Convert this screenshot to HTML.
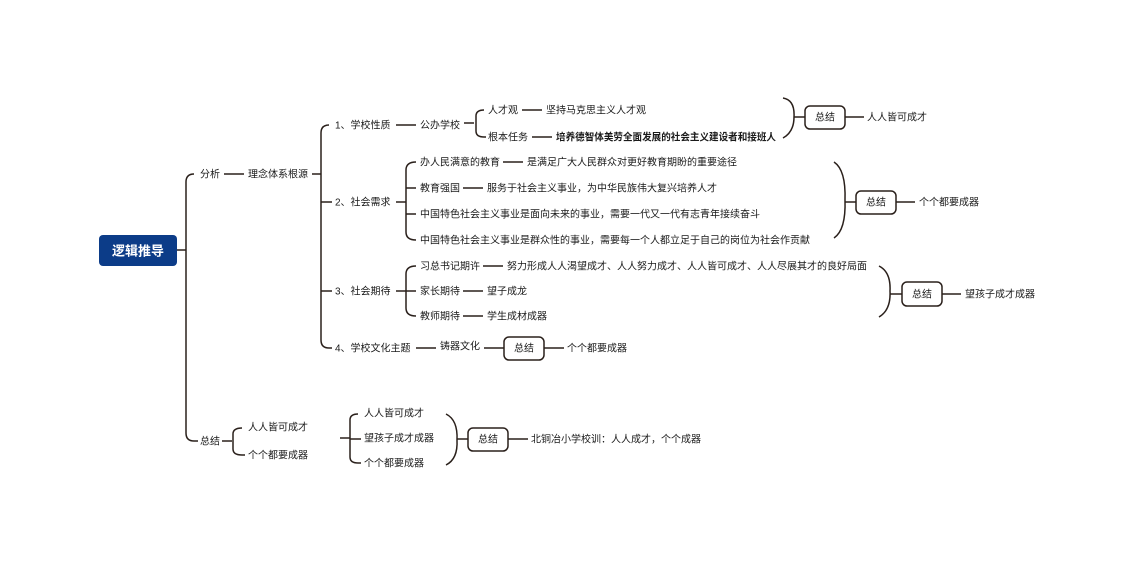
<!DOCTYPE html>
<html><head><meta charset="utf-8"><style>
html,body{margin:0;padding:0;background:#fff}
svg text{font-family:"Liberation Sans","Noto Sans CJK SC",sans-serif;font-size:10px;fill:#1a1a1a;dominant-baseline:central}
</style></head><body>
<svg width="1135" height="568" viewBox="0 0 1135 568" xmlns="http://www.w3.org/2000/svg">
<g fill="none" stroke="#2a201b" stroke-width="1.5">
<path d="M177 250H186"/>
<path d="M194 174Q186 174 186 182V433Q186 441 194 441H198"/>
<path d="M224 174H244"/>
<path d="M312 174H321"/>
<path d="M329 125Q321 125 321 133V340Q321 348 329 348H332"/>
<path d="M321 202H332M321 291H332"/>
<path d="M396 125H416"/>
<path d="M464 123H474"/>
<path d="M484 110Q476 110 476 116V131Q476 137 484 137H486"/>
<path d="M522 110H542M532 137H552"/>
<path d="M783 98Q795 100 794 117Q794 132 783 138"/>
<path d="M794 117H805"/>
<rect x="805" y="106" width="40" height="23" rx="5"/>
<path d="M845 117H864"/>
<path d="M396 202H406"/>
<path d="M416 162Q406 162 406 170V232Q406 240 416 240"/>
<path d="M406 188H416M406 214H416"/>
<path d="M503 162H523M463 188H483"/>
<path d="M834 162Q846 170 845 200Q846 230 834 238"/>
<path d="M845 202H856"/>
<rect x="856" y="191" width="40" height="23" rx="5"/>
<path d="M896 202H915"/>
<path d="M396 291H406"/>
<path d="M416 266Q406 266 406 274V308Q406 316 416 316"/>
<path d="M406 291H416"/>
<path d="M483 266H503M463 291H483M463 316H483"/>
<path d="M879 266Q891 272 890 291Q891 310 879 317"/>
<path d="M890 294H902"/>
<rect x="902" y="282" width="40" height="24" rx="5"/>
<path d="M942 294H961"/>
<path d="M416 348H436M484 348H504"/>
<rect x="504" y="337" width="40" height="23" rx="5"/>
<path d="M544 348H564"/>
<path d="M222 441H232"/>
<path d="M242 428Q233 428 233 434V449Q233 455 242 455H245"/>
<path d="M340 438H350"/>
<path d="M358 414Q350 414 350 420V457Q350 463 358 463H361"/>
<path d="M350 439H361"/>
<path d="M446 414Q458 420 457 440Q458 459 446 465"/>
<path d="M457 439H468"/>
<rect x="468" y="428" width="40" height="23" rx="5"/>
<path d="M508 439H528"/>
</g>
<rect x="99" y="235" width="78" height="31" rx="4" fill="#0c3c88"/>
<g transform="translate(0,1)">
<text x="138" y="250" text-anchor="middle" style="fill:#fff;font-size:13px;font-weight:bold">逻辑推导</text>
<text x="200" y="174">分析</text>
<text x="248" y="174">理念体系根源</text>
<text x="335" y="125">1、学校性质</text>
<text x="420" y="125">公办学校</text>
<text x="488" y="110">人才观</text>
<text x="546" y="110">坚持马克思主义人才观</text>
<text x="488" y="137">根本任务</text>
<text x="556" y="137" style="font-weight:bold" textLength="220" lengthAdjust="spacingAndGlyphs">培养德智体美劳全面发展的社会主义建设者和接班人</text>
<text x="825" y="117" text-anchor="middle">总结</text>
<text x="867" y="117">人人皆可成才</text>
<text x="335" y="202">2、社会需求</text>
<text x="420" y="162">办人民满意的教育</text>
<text x="527" y="162">是满足广大人民群众对更好教育期盼的重要途径</text>
<text x="420" y="188">教育强国</text>
<text x="487" y="188">服务于社会主义事业，为中华民族伟大复兴培养人才</text>
<text x="420" y="214">中国特色社会主义事业是面向未来的事业，需要一代又一代有志青年接续奋斗</text>
<text x="420" y="240">中国特色社会主义事业是群众性的事业，需要每一个人都立足于自己的岗位为社会作贡献</text>
<text x="876" y="202" text-anchor="middle">总结</text>
<text x="919" y="202">个个都要成器</text>
<text x="335" y="291">3、社会期待</text>
<text x="420" y="266">习总书记期许</text>
<text x="507" y="266">努力形成人人渴望成才、人人努力成才、人人皆可成才、人人尽展其才的良好局面</text>
<text x="420" y="291">家长期待</text>
<text x="487" y="291">望子成龙</text>
<text x="420" y="316">教师期待</text>
<text x="487" y="316">学生成材成器</text>
<text x="922" y="294" text-anchor="middle">总结</text>
<text x="965" y="294">望孩子成才成器</text>
<text x="335" y="348">4、学校文化主题</text>
<text x="440" y="346">铸器文化</text>
<text x="524" y="348" text-anchor="middle">总结</text>
<text x="567" y="348">个个都要成器</text>
<text x="200" y="441">总结</text>
<text x="248" y="427">人人皆可成才</text>
<text x="248" y="455">个个都要成器</text>
<text x="364" y="413">人人皆可成才</text>
<text x="364" y="438">望孩子成才成器</text>
<text x="364" y="463">个个都要成器</text>
<text x="488" y="439" text-anchor="middle">总结</text>
<text x="531" y="439">北铜冶小学校训：人人成才，个个成器</text>
</g>
</svg>
</body></html>
